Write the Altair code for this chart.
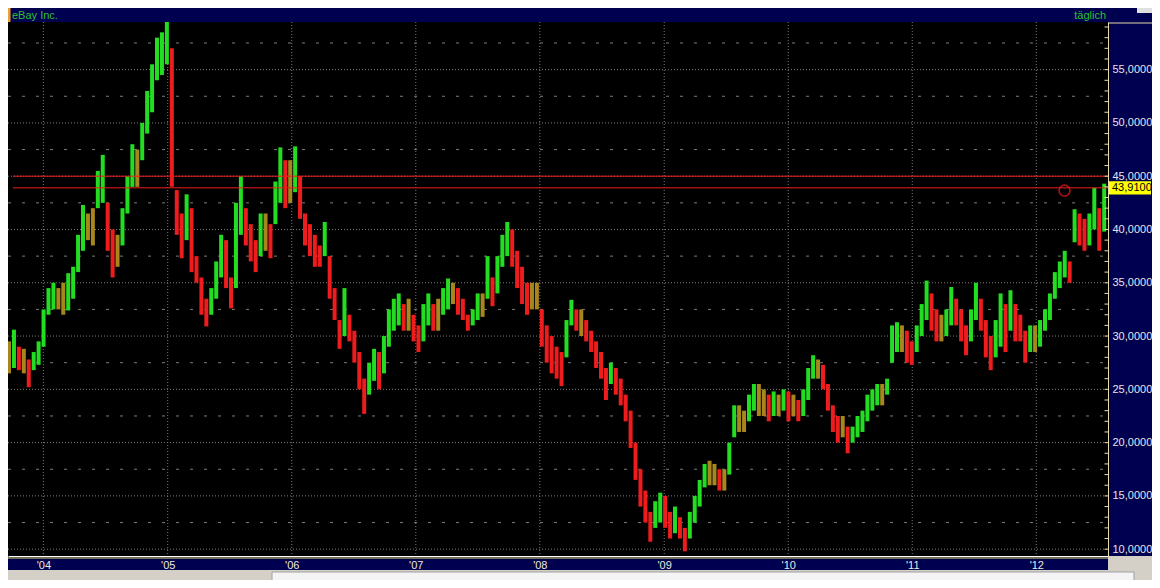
import altair as alt
import numpy as np
import pandas as pd

# ---------------- data ----------------
# two-week bars, low / high of eBay Inc. (split adjusted), Sep 2003 .. Jul 2012
lows = [
    26.5, 27.0, 26.8, 26.5, 25.2, 26.8, 27.3, 29.0, 32.0, 32.5,
    32.5, 32.0, 32.4, 33.5, 36.0, 38.0, 39.0, 38.5, 42.0, 42.5,
    38.0, 35.5, 36.5, 38.5, 41.5, 44.0, 44.0, 46.5, 49.0, 51.0,
    54.0, 54.5, 55.5, 44.0, 39.5, 37.3, 39.0, 36.0, 35.0, 32.0,
    30.9, 32.0, 33.5, 35.5, 34.5, 32.6, 34.5, 39.5, 38.5, 37.0,
    36.0, 37.5, 38.0, 37.3, 40.5, 42.5, 42.0, 42.5, 43.5, 41.0,
    38.5, 37.5, 36.5, 36.5, 37.5, 33.5, 31.5, 28.8, 30.0, 29.5,
    27.5, 25.0, 22.7, 24.5, 25.8, 25.0, 26.5, 29.0, 30.5, 31.0,
    30.5, 30.5, 29.5, 28.5, 29.5, 31.0, 30.5, 30.5, 32.0, 32.5,
    33.0, 32.0, 31.5, 30.5, 31.0, 31.5, 31.8, 33.5, 32.8, 34.0,
    36.5, 37.5, 36.5, 34.5, 33.0, 32.0, 32.5, 32.5, 29.0, 27.5,
    26.5, 26.0, 25.3, 28.0, 31.0, 30.5, 30.0, 29.5, 28.5, 27.0,
    26.0, 24.0, 25.5, 24.5, 23.5, 22.0, 19.5, 16.5, 14.0, 12.5,
    10.7, 12.0, 12.5, 12.0, 11.0, 11.5, 11.0, 9.8, 11.0, 12.5,
    14.0, 15.8, 16.0, 16.0, 15.5, 15.5, 17.0, 20.5, 21.0, 21.0,
    22.0, 23.0, 22.5, 22.5, 22.0, 22.5, 22.5, 23.0, 22.0, 22.5,
    22.0, 22.5, 24.0, 26.0, 26.0, 25.0, 23.0, 21.0, 20.0, 20.5,
    19.0, 20.0, 20.5, 21.0, 22.0, 23.0, 23.5, 23.5, 24.5, 27.5,
    28.5, 28.5, 27.5, 27.3, 28.5, 30.0, 31.5, 30.5, 29.5, 29.5,
    30.0, 31.0, 31.0, 29.5, 28.2, 29.5, 31.5, 30.5, 28.0, 26.8,
    28.0, 29.0, 28.5, 30.5, 29.5, 29.5, 27.5, 28.5, 28.5, 29.0,
    30.5, 31.5, 33.5, 34.5, 35.5, 35.0, 38.8, 38.5, 38.0, 38.5,
    40.0, 38.0, 39.8,
]
highs = [
    29.5, 30.6, 29.0, 28.8, 27.8, 28.5, 29.5, 32.5, 34.5, 35.0,
    34.5, 35.0, 35.9, 36.5, 39.5, 42.3, 41.5, 42.0, 45.5, 47.0,
    42.5, 40.0, 39.5, 42.0, 45.0, 48.0, 47.5, 50.0, 53.0, 55.5,
    58.0, 58.5, 59.5, 57.0, 43.7, 41.5, 43.3, 42.0, 37.5, 35.5,
    33.5, 34.5, 37.0, 39.5, 39.0, 35.5, 42.5, 45.0, 42.0, 40.5,
    39.0, 41.5, 41.5, 40.5, 44.5, 47.7, 46.5, 46.5, 47.8, 45.0,
    41.5, 40.5, 39.5, 38.5, 40.7, 37.5, 34.5, 31.5, 34.5, 32.0,
    30.5, 28.5, 26.0, 27.5, 28.8, 28.5, 30.0, 32.5, 33.5, 34.0,
    33.0, 33.5, 32.0, 31.0, 33.0, 34.0, 33.0, 33.5, 34.5, 35.4,
    35.0, 34.5, 33.5, 32.0, 32.5, 34.0, 34.0, 37.5, 35.5, 37.5,
    39.5, 40.7, 40.0, 38.0, 36.5, 35.0, 35.0, 35.0, 32.5, 31.0,
    30.0, 29.0, 28.5, 31.5, 33.4, 32.5, 32.5, 31.5, 30.5, 29.5,
    28.5, 27.0, 27.5, 27.0, 26.0, 24.5, 23.0, 20.0, 17.5, 15.5,
    13.5, 14.5, 15.3, 15.0, 13.5, 14.0, 13.0, 12.0, 13.5, 15.0,
    16.5, 18.0, 18.3, 18.0, 17.5, 17.5, 20.0, 23.5, 23.5, 23.0,
    24.5, 25.5, 25.5, 25.0, 24.5, 24.8, 24.5, 25.0, 24.8, 24.5,
    24.0, 25.0, 27.0, 28.2, 27.8, 27.3, 25.5, 23.5, 22.5, 22.5,
    21.5, 21.5, 22.5, 23.0, 24.5, 25.0, 25.5, 25.5, 26.0, 31.0,
    31.3, 31.0, 30.5, 29.5, 31.0, 33.0, 35.2, 34.0, 32.5, 32.0,
    32.5, 34.6, 33.5, 32.5, 31.0, 32.5, 35.0, 33.5, 31.5, 30.0,
    31.5, 34.0, 33.0, 34.3, 33.0, 32.0, 30.5, 31.0, 31.0, 31.5,
    32.5, 34.0, 36.0, 37.0, 38.0, 37.0, 41.9, 41.5, 41.0, 41.5,
    43.9, 42.0, 44.3,
]
first_bar = "2003-09-22"
bar_step_days = 14.517

y_ticks = [10, 15, 20, 25, 30, 35, 40, 45, 50, 55]
minor_grid = [12.5, 17.5, 22.5, 27.5, 32.5, 37.5, 42.5, 47.5, 52.5, 57.5]
unit_ticks = list(range(10, 60))
years = [2004, 2005, 2006, 2007, 2008, 2009, 2010, 2011, 2012]
levels = [45.0, 43.91]
last_price = 43.91
last_label = "43,9100"
marker_date = "2012-03-24"
marker_value = 43.65
title_text = "eBay Inc."
interval_text = "täglich"

# ---------------- layout / style ----------------
W, H = 1100, 534
NAVY = "#000050"
CREAM = "#e8dca8"
FONT = "Liberation Sans"

dates = pd.Timestamp(first_bar) + pd.to_timedelta(np.arange(len(lows)) * bar_step_days, unit="D")
bars = pd.DataFrame({"date": dates, "lo": lows, "hi": highs})
mid = (bars["lo"] + bars["hi"]) / 2
chg = mid.diff().fillna(0)
bars["dir"] = np.select([chg > 0.3, chg < -0.3], ["up", "down"], "flat")

year_df = pd.DataFrame({"d": pd.to_datetime([f"{y}-01-01" for y in years])})
major_df = pd.DataFrame({"v": y_ticks})
minor_df = pd.DataFrame({"v": minor_grid})
unit_df = pd.DataFrame({"v": unit_ticks})
level_df = pd.DataFrame({"v": levels})
marker_df = pd.DataFrame({"d": pd.to_datetime([marker_date]), "v": [marker_value]})
one = pd.DataFrame({"k": [0]})

xs = alt.Scale(domain=[alt.DateTime(year=2003, month=9, date=19),
                       alt.DateTime(year=2012, month=7, date=30)])
ys = alt.Scale(domain=[9.36, 59.47], nice=False, zero=False)

x_axis = alt.Axis(orient="bottom", values=[alt.DateTime(year=y, month=1, date=1) for y in years],
                  format="'%y", labelColor="#ecebd8", labelFont=FONT, labelFontSize=11,
                  labelPadding=9, labelBaseline="middle", ticks=False, tickSize=0,
                  domainColor="#ffffff", domainWidth=1, grid=False, title=None, zindex=1,
                  labelFlush=False, labelOverlap=False)
y_axis = alt.Axis(orient="right", values=y_ticks,
                  labelExpr="replace(format(datum.value, '.4f'), '.', ',')",
                  labelColor="#e6e6e6", labelFont=FONT, labelFontSize=11, labelPadding=4,
                  ticks=False, tickSize=0, domainColor=CREAM, domainWidth=1, grid=False,
                  title=None, zindex=1, labelFlush=False, labelOverlap=False)


def X(field):
    return alt.X(field, scale=xs, axis=x_axis)


def Y(field):
    return alt.Y(field, scale=ys, axis=y_axis)


hgrid = alt.Chart(major_df).mark_rule(color="#7c7c7c", strokeDash=[1, 2], strokeWidth=1).encode(
    y=Y("v:Q"), x=alt.value(0), x2=alt.value(W))
hgrid_minor = alt.Chart(minor_df).mark_rule(color="#7c7c7c", strokeDash=[3, 11], strokeWidth=1).encode(
    y=Y("v:Q"), x=alt.value(0), x2=alt.value(W))
vgrid = alt.Chart(year_df).mark_rule(color="#7c7c7c", strokeDash=[1, 2], strokeWidth=1).encode(
    x=X("d:T"), y=alt.value(0), y2=alt.value(H))

candles = alt.Chart(bars).mark_rule(strokeWidth=4.0).encode(
    x=X("date:T"),
    y=Y("lo:Q"),
    y2="hi:Q",
    color=alt.Color("dir:N", scale=alt.Scale(domain=["up", "down", "flat"],
                                             range=["#22dd22", "#ee1c1c", "#a8861e"]), legend=None),
)

level_lines = alt.Chart(level_df).mark_rule(color="#f01c1c", strokeWidth=1).encode(
    y=Y("v:Q"), x=alt.value(5), x2=alt.value(W))

marker = alt.Chart(marker_df).mark_point(shape="circle", filled=False, color="#f01c1c",
                                         size=120, strokeWidth=1.6).encode(
    x=X("d:T"), y=Y("v:Q"))

# panels
right_panel = alt.Chart(one).mark_rect(color=NAVY).encode(
    x=alt.value(W), x2=alt.value(W + 44), y=alt.value(0), y2=alt.value(H))
right_top = alt.Chart(one).mark_rule(color=CREAM).encode(
    x=alt.value(W), x2=alt.value(W + 44), y=alt.value(1))
unit_tick_marks = alt.Chart(unit_df).mark_rule(color=CREAM, strokeWidth=1).encode(
    y=Y("v:Q"), x=alt.value(W - 3.5), x2=alt.value(W))
bottom_cream = alt.Chart(one).mark_rule(color=CREAM, strokeWidth=1.2).encode(
    x=alt.value(0), x2=alt.value(W), y=alt.value(H + 2))
bottom_band = alt.Chart(one).mark_rect(color=NAVY).encode(
    x=alt.value(0), x2=alt.value(W), y=alt.value(H + 3), y2=alt.value(H + 14))
gray_strip = alt.Chart(one).mark_rect(color="#d4d0c8").encode(
    x=alt.value(0), x2=alt.value(W + 44), y=alt.value(H + 14), y2=alt.value(H + 24))
gray_corner = alt.Chart(one).mark_rect(color="#d4d0c8").encode(
    x=alt.value(W), x2=alt.value(W + 44), y=alt.value(H), y2=alt.value(H + 24))
white_box = alt.Chart(one).mark_rect(color="#f4f4f4", stroke="#a0a0a0", strokeWidth=1).encode(
    x=alt.value(264), x2=alt.value(W + 26), y=alt.value(H + 16), y2=alt.value(H + 26))
title_bar = alt.Chart(one).mark_rect(color=NAVY).encode(
    x=alt.value(0), x2=alt.value(W + 44), y=alt.value(-14), y2=alt.value(0))
orange_tab = alt.Chart(one).mark_rect(color="#f0a030").encode(
    x=alt.value(0), x2=alt.value(2.5), y=alt.value(-14), y2=alt.value(0))
corner_box = alt.Chart(one).mark_rect(color="#e0e0e0").encode(
    x=alt.value(W + 29), x2=alt.value(W + 44), y=alt.value(-14), y2=alt.value(-9))

title_txt = alt.Chart(pd.DataFrame({"t": [title_text]})).mark_text(
    align="left", baseline="middle", font=FONT, fontSize=11, color="#2ec02e").encode(
    x=alt.value(4), y=alt.value(-6.5), text="t:N")
interval_txt = alt.Chart(pd.DataFrame({"t": [interval_text]})).mark_text(
    align="right", baseline="middle", font=FONT, fontSize=11, color="#2ec02e").encode(
    x=alt.value(W - 2), y=alt.value(-6.5), text="t:N")

price_box = alt.Chart(pd.DataFrame({"a": [last_price - 0.62], "b": [last_price + 0.62]})).mark_rect(
    color="#ffff00").encode(
    x=alt.value(W + 1), x2=alt.value(W + 43),
    y=Y("a:Q"), y2="b:Q")
price_txt = alt.Chart(pd.DataFrame({"v": [last_price], "t": [last_label]})).mark_text(
    align="left", baseline="middle", font=FONT, fontSize=11, color="#000000").encode(
    x=alt.value(W + 4), y=Y("v:Q"), text="t:N")

chart = alt.layer(
    hgrid, hgrid_minor, vgrid, candles, level_lines, marker,
    right_panel, right_top, unit_tick_marks,
    bottom_cream, bottom_band, gray_strip, gray_corner, white_box,
    title_bar, orange_tab, corner_box, title_txt, interval_txt,
    price_box, price_txt,
).properties(
    width=W, height=H, background="#000000",
    padding={"left": 0, "top": 14, "right": 44, "bottom": 24},
    autosize=alt.AutoSizeParams(type="none"),
).configure_view(strokeWidth=0)

chart.save("out.html", embed_options={"renderer": "svg", "actions": False})
